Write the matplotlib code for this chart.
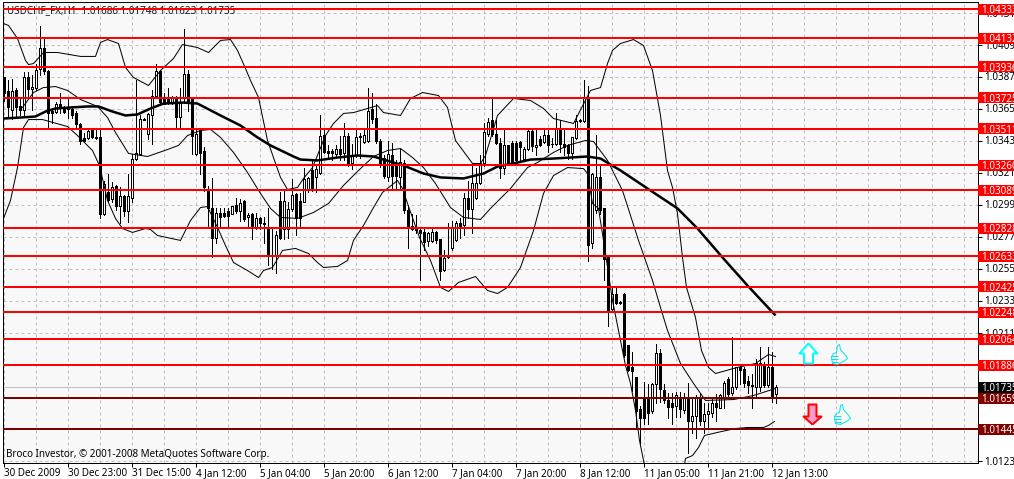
import numpy as np
import matplotlib
matplotlib.use("Agg")
import matplotlib.pyplot as plt
from matplotlib.patches import Rectangle
from matplotlib.path import Path

# all price lists are in 1e-5 points
highs = [103870,103843,103856,103794,103726,103898,103898,103877,103959,104214,
         104131,103918,103650,103698,103760,103670,103726,103664,103636,103547,
         103485,103506,103506,103506,103513,103155,103203,103148,103121,103107,
         103052,103203,103334,103849,103602,103588,103616,103774,103959,103918,
         103760,103788,103739,103733,103794,104200,103918,103726,103499,103513,
         103382,103114,103169,102963,102969,102969,102969,102983,103038,103031,
         103018,102935,102935,102935,102901,102901,102963,102825,102811,103073,
         103086,103004,103162,103066,103066,103244,103176,103306,103258,103602,
         103513,103396,103375,103396,103464,103547,103485,103409,103499,103485,
         103499,103788,103760,103684,103437,103327,103430,103416,103293,103375,
         103293,102990,102928,102921,102825,102825,102798,102832,102811,102756,
         102674,102866,102880,102880,102894,103066,103155,103258,103244,103327,
         103547,103588,103719,103574,103444,103499,103396,103430,103430,103430,
         103382,103513,103499,103519,103464,103513,103513,103444,103616,103574,
         103513,103409,103451,103602,103581,103843,103808,103210,103471,103258,
         102969,102639,102420,102420,102330,102385,102021,101973,101801,101608,
         101773,101759,101766,102034,102000,101759,101691,101691,101698,101698,
         101691,101766,101663,101677,101691,101622,101622,101663,101684,101684,
         101780,101801,102076,101870,101883,101870,101814,101828,101931,102007,
         101904,102007,101973,101748]
lows = [103705,103588,103581,103588,103602,103602,103739,103643,103774,103877,
        103890,103506,103547,103616,103616,103616,103588,103588,103519,103409,
        103423,103437,103444,103437,102894,102921,103004,103004,102949,102866,
        102914,102873,103004,103299,103327,103568,103437,103409,103726,103684,
        103678,103678,103684,103519,103526,103691,103636,103334,103327,103203,
        103086,102832,102626,102722,102832,102901,102832,102928,102935,102880,
        102880,102832,102750,102825,102825,102722,102571,102550,102516,102756,
        102756,102763,102942,102777,102832,103004,103073,103086,103073,103203,
        103341,103313,103293,103320,103293,103293,103258,103237,103320,103313,
        103416,103423,103547,103416,103251,103169,103155,103100,103100,103100,
        102935,102694,102818,102791,102468,102674,102708,102729,102722,102468,
        102536,102619,102674,102736,102763,102777,102894,102791,103031,103134,
        103258,103464,103464,103409,103169,103203,103272,103272,103279,103293,
        103293,103368,103361,103327,103389,103416,103348,103382,103396,103348,
        103327,103306,103306,103437,103554,103554,102605,102688,102935,102928,
        102468,102158,102261,102303,102309,101945,101842,101711,101457,101347,
        101484,101484,101560,101622,101629,101622,101519,101484,101526,101526,
        101560,101285,101416,101388,101471,101416,101457,101526,101505,101594,
        101594,101663,101677,101725,101759,101732,101691,101594,101663,101711,
        101732,101732,101629,101623]
opens = [103870,103767,103643,103774,103664,103643,103870,103781,103788,103925,
         104069,103911,103636,103629,103684,103657,103650,103650,103622,103540,
         103444,103444,103499,103451,103451,102928,103073,103031,103114,102983,
         103045,102942,103038,103306,103334,103574,103478,103602,103739,103911,
         103726,103719,103698,103726,103595,103726,103890,103719,103334,103499,
         103361,103086,102969,102763,102935,102935,102942,102928,102990,102942,
         103011,102901,102928,102832,102894,102866,102832,102646,102639,103011,
         102825,102825,102956,103059,103011,103004,103100,103224,103176,103210,
         103471,103361,103361,103334,103375,103341,103458,103272,103327,103464,
         103423,103430,103650,103588,103430,103313,103176,103327,103258,103176,
         103272,102949,102825,102818,102818,102798,102736,102736,102804,102750,
         102543,102633,102694,102743,102866,102846,103038,102956,103038,103141,
         103272,103478,103568,103478,103416,103244,103396,103416,103416,103423,
         103306,103375,103492,103382,103437,103423,103471,103409,103409,103513,
         103409,103396,103341,103444,103568,103561,103719,102722,102949,103176,
         102963,102626,102275,102378,102323,102378,102021,101870,101801,101581,
         101663,101663,101567,101759,101966,101718,101643,101622,101608,101670,
         101574,101663,101505,101533,101670,101505,101553,101560,101622,101594,
         101663,101787,101691,101732,101870,101856,101780,101746,101732,101732,
         101890,101746,101870,101686]
closes = [103760,103657,103767,103657,103643,103870,103781,103801,103918,104069,
          103911,103622,103622,103684,103657,103629,103657,103602,103540,103430,
          103430,103492,103451,103444,102928,103134,103018,103107,102983,103045,
          102942,103045,103306,103341,103581,103581,103609,103739,103911,103698,
          103684,103691,103719,103595,103691,103890,103705,103464,103478,103341,
          103107,102963,102763,102935,102901,102908,102914,102983,102942,102997,
          102887,102921,102832,102894,102860,102853,102646,102639,102777,102763,
          103011,102956,103052,102894,102894,103162,103169,103100,103237,103464,
          103348,103341,103341,103375,103334,103458,103272,103327,103451,103451,
          103471,103636,103581,103430,103272,103183,103334,103189,103183,103279,
          102949,102832,102839,102825,102791,102729,102791,102804,102743,102536,
          102619,102626,102825,102860,102839,103038,102956,103141,103141,103272,
          103485,103554,103478,103416,103244,103396,103272,103279,103299,103382,
          103375,103492,103389,103396,103396,103471,103396,103403,103513,103409,
          103382,103341,103451,103561,103561,103719,102715,103203,103176,102949,
          102612,102261,102378,102316,102316,101952,101849,101842,101567,101519,
          101519,101560,101759,101966,101725,101643,101601,101601,101677,101581,
          101663,101505,101539,101663,101505,101553,101567,101622,101601,101677,
          101766,101684,101732,101870,101849,101766,101746,101739,101897,101897,
          101746,101870,101663,101735]

upper_bar = [0,1.25,3.5,5.5,6.25,7.5,10,13.5,19.25,23,24.25,26,28.75,30.5,32.5,36.25,39.25,42.5,44.75,
             48.5,51.25,54.25,56.75,58.5,60.5,61.75,63.75,66,69.25,71,73.5,75,77.25,80.5,82.5,85,87.5,
             91,93.5,95,99.25,101.75,104.75,108.75,111,113,117.25,119.25,120.5,123.5,127.5,131.75,135,
             137.5,142.5,146.75,149.25,151,152.25,154.25,157.5,160,162.25,164.25,166,167.25,168.5,169.75,
             170.75,173,174.5,176.25,178,183.5,188,191.25,193]
upper_val = [104234,104221,104131,103980,103952,103959,104035,104035,104008,104008,104104,104124,104097,
             103932,103863,103808,103911,103994,104090,104069,104035,104118,104124,104049,103925,103843,
             103726,103430,103176,103093,103107,103169,103244,103464,103547,103616,103622,103650,103670,
             103622,103602,103719,103760,103739,103657,103430,103272,103272,103327,103602,103719,103705,
             103650,103581,103547,103774,103794,103959,104049,104097,104124,104083,103911,103602,103224,
             103107,102928,102626,102420,102213,101986,101870,101828,101870,101897,101959,101945]
mid_bar = [4.75,7.5,10,13,16,19.25,23.5,26,28,31.25,36,41,43.75,46,49.25,51.75,54.25,57.5,61,64.25,66.75,
           69.25,73.5,77.5,81.25,85,88.75,92.5,96,99.25,102.25,105,108,111.75,115,119.25,121.75,126.75,131,
           133.5,137.5,141,145.5,147.5,151,154.75,158.75,162.25,164.25,166,169.25,172.5,175.5,182.5,187.5,193]
mid_val = [103657,103760,103794,103801,103774,103712,103664,103588,103485,103341,103320,103368,103396,
           103464,103499,103506,103451,103348,103210,103066,102963,102901,102894,102935,102997,103121,
           103224,103320,103361,103375,103313,103244,103134,102969,102901,102887,102963,103100,103244,
           103279,103348,103396,103430,103423,103293,103086,102743,102468,102282,102124,101897,101760,
           101643,101649,101677,101725]
lower_bar = [0,1.75,3.5,5,6.25,9.75,16,18.5,22.25,24,26,28,29.75,32.25,35.5,36.75,38.5,44.25,46.75,49.25,51,
             53.5,55.5,57.5,61,63.75,65,67.25,69.75,73,76.25,78.5,80,83.5,86,87.5,90,92.5,94.75,98.5,99.75,
             101,104,106.75,109.25,111.25,113.75,118,121,123.5,126,129.25,132.5,135,137.5,141,145,146,147.25,
             148.75,150,152.25,155.5,156.75,158,159,160.5,170,170.5,172.25,173.75,175.25,178.5,183,186,190,
             191.25,192.75]
lower_val = [102894,103018,103244,103519,103574,103574,103526,103464,103361,103258,103018,102894,102825,
             102798,102825,102818,102777,102743,102880,102969,102976,102832,102708,102591,102536,102488,
             102536,102557,102674,102688,102653,102591,102557,102564,102605,102743,102846,102969,103073,
             103155,103100,102997,102763,102605,102420,102392,102454,102495,102399,102378,102420,102557,
             102811,103066,103189,103244,103237,103203,102997,102963,102743,102330,101883,101760,101574,
             101368,101161,101161,101244,101264,101319,101402,101423,101450,101457,101457,101471,101498]
ma_bar = [0,4.25,8,10.5,13,16.75,21,23.75,27.25,30.5,33.5,36.75,40,45,48.5,54.25,59.25,63.5,66.75,72.5,74.25,
          78.5,83.5,88.5,92.5,95,100,105,109.25,115,120,123.5,127.5,131.75,137.5,146,149.25,154.25,161.75,
          165.5,168.5,173.5,179.75,186,193]
ma_val = [103581,103588,103595,103629,103650,103657,103664,103664,103629,103602,103609,103650,103684,103691,
          103684,103602,103533,103451,103396,103320,103299,103293,103313,103327,103320,103299,103258,103203,
          103176,103169,103203,103251,103272,103299,103306,103320,103306,103224,103086,103018,102963,102825,
          102626,102433,102227]

red_levels = [1.04333,1.04132,1.03936,1.03725,1.03511,1.03260,1.03089,1.02828,1.02633,1.02425,1.02248,1.02064,1.01886]
dark_levels = [1.01659,1.01445]
bid_price = 1.01735
price_ticks = [1.0431,1.0409,1.0387,1.0365,1.0343,1.0321,1.0299,1.0277,1.0255,1.0233,1.0211,1.0189,1.0167,1.0145,1.0123]
time_labels = ["30 Dec 2009","30 Dec 23:00","31 Dec 15:00","4 Jan 12:00","5 Jan 04:00","5 Jan 20:00","6 Jan 12:00",
               "7 Jan 04:00","7 Jan 20:00","8 Jan 12:00","11 Jan 05:00","11 Jan 21:00","12 Jan 13:00"]

PX = 1 / 100 * 72  # one pixel in points at dpi 100
FONT = "Noto Sans"
SIZE = 7.1
PRICE_PER_PX = 0.0022 / 32

fig = plt.figure(figsize=(10.14, 4.79), dpi=100, facecolor="white")
ax = fig.add_axes([2.5 / 1014, 1 - 462.5 / 479, 975 / 1014, 461 / 479], facecolor="#f8f8f8")
ax.set_xlim(-0.25, 243.5)
ax.set_ylim(1.0123 - 2 * PRICE_PER_PX, 1.0123 + 459 * PRICE_PER_PX)

hi = np.array(highs) / 1e5
lo = np.array(lows) / 1e5
op = np.array(opens) / 1e5
cl = np.array(closes) / 1e5
bars = np.arange(len(hi))

# candles
ax.vlines(bars, lo, hi, color="black", lw=PX, antialiased=False, zorder=2)
colors = ["white" if c >= o else "black" for o, c in zip(op, cl)]
ax.bar(bars, np.abs(cl - op), bottom=np.minimum(op, cl), width=0.5, color=colors, edgecolor="black",
       linewidth=PX, antialiased=False, zorder=3)

# bands and moving average
for xs, vals in [(upper_bar, upper_val), (mid_bar, mid_val), (lower_bar, lower_val)]:
    ax.plot(xs, np.array(vals) / 1e5, color="black", lw=PX, zorder=4)
ax.plot(ma_bar, np.array(ma_val) / 1e5, color="black", lw=2.5 * PX, zorder=4, solid_capstyle="butt")

# level lines
ax.axhline(bid_price, color="#c0c0c0", lw=PX, zorder=1.8)
for lev in red_levels:
    ax.axhline(lev, color="#ff0000", lw=2 * PX, zorder=5)
for lev in dark_levels:
    ax.axhline(lev, color="#800000", lw=2 * PX, zorder=5)

# right hand price boxes
box_tr = ax.get_yaxis_transform()
def price_box(level, face):
    ax.add_patch(Rectangle((975.5 / 975, level - 5.5 * PRICE_PER_PX), 40 / 975, 11 * PRICE_PER_PX, transform=box_tr,
                           facecolor=face, edgecolor="none", clip_on=False, zorder=6))
    ax.text(979 / 975, level, "%.5f" % level, transform=box_tr, color="white", fontsize=SIZE, family=FONT,
            va="center_baseline", ha="left", clip_on=False, zorder=7)
for lev in red_levels:
    price_box(lev, "#ff0000")
price_box(bid_price, "black")
for lev in dark_levels:
    price_box(lev, "#800000")

# axes look
ax.set_axisbelow(True)
ax.yaxis.tick_right()
ax.set_yticks(price_ticks)
ax.set_yticklabels(["%.5f" % t for t in price_ticks], fontsize=SIZE, family=FONT)
ax.set_xticks(np.arange(0, 193, 16))
ax.set_xticklabels(time_labels, fontsize=SIZE, family=FONT, ha="left")
ax.set_xticks(np.arange(8, 244, 8), minor=True)
ax.tick_params(axis="y", length=3, width=PX, pad=1.5, direction="out")
ax.tick_params(axis="x", which="major", length=3, width=PX, pad=1, direction="out")
ax.tick_params(axis="x", which="minor", length=0)
ax.grid(True, axis="y", color="#c0c0c0", lw=PX, ls=(0, (3, 3)))
ax.grid(True, axis="x", which="both", color="#c0c0c0", lw=PX, ls=(0, (3, 3)))
for sp in ax.spines.values():
    sp.set_linewidth(PX)
    sp.set_color("black")

# header and footer text
ax.text(4.5 / 975, 1 - 9.5 / 461, "USDCHF_FX,H1  1.01686 1.01748 1.01623 1.01735", transform=ax.transAxes,
        fontsize=SIZE, family=FONT, color="#101820", va="center", zorder=1.9)
ax.text(3.5 / 975, 8.5 / 461, "Broco Investor, © 2001-2008 MetaQuotes Software Corp.", transform=ax.transAxes,
        fontsize=SIZE, family=FONT, color="black", va="center", zorder=8)

# signal arrows and thumbs
M, L = Path.MOVETO, Path.LINETO
arrow_up = Path([(0, 10), (9, 0), (4.5, 0), (4.5, -10), (-4.5, -10), (-4.5, 0), (-9, 0), (0, 10)], [M, L, L, L, L, L, L, L])
arrow_dn = Path([(0, -10), (9, -2), (4, -2), (4, 10), (-4, 10), (-4, -2), (-9, -2), (0, -10)], [M, L, L, L, L, L, L, L])
thumb = Path([(-7, -9), (-8, -2), (-6, 1), (-3, 2), (-2, 9), (0, 10), (1, 5), (7, -2), (8, -4), (4, -7), (-2, -10), (-7, -9),
              (-8, -2), (-1, -2), (-8, -5), (-1, -5), (-7, -8), (-1, -8)],
             [M, L, L, L, L, L, L, L, L, L, L, L, M, L, M, L, M, L])
ax.plot([201], [1.01966], marker=arrow_up, ms=20 * PX, mfc="white", mec="#00ffff", mew=2 * PX, zorder=6, ls="none")
ax.plot([202], [1.01553], marker=arrow_dn, ms=20 * PX, mfc="#ff99cc", mec="#ff0000", mew=2 * PX, zorder=6, ls="none")
ax.plot([208.75, 209.5], [1.01959, 1.01553], marker=thumb, ms=20 * PX, mfc="none", mec="#00e8f0", mew=PX, zorder=6, ls="none")

fig.savefig("out.png", dpi=100)
